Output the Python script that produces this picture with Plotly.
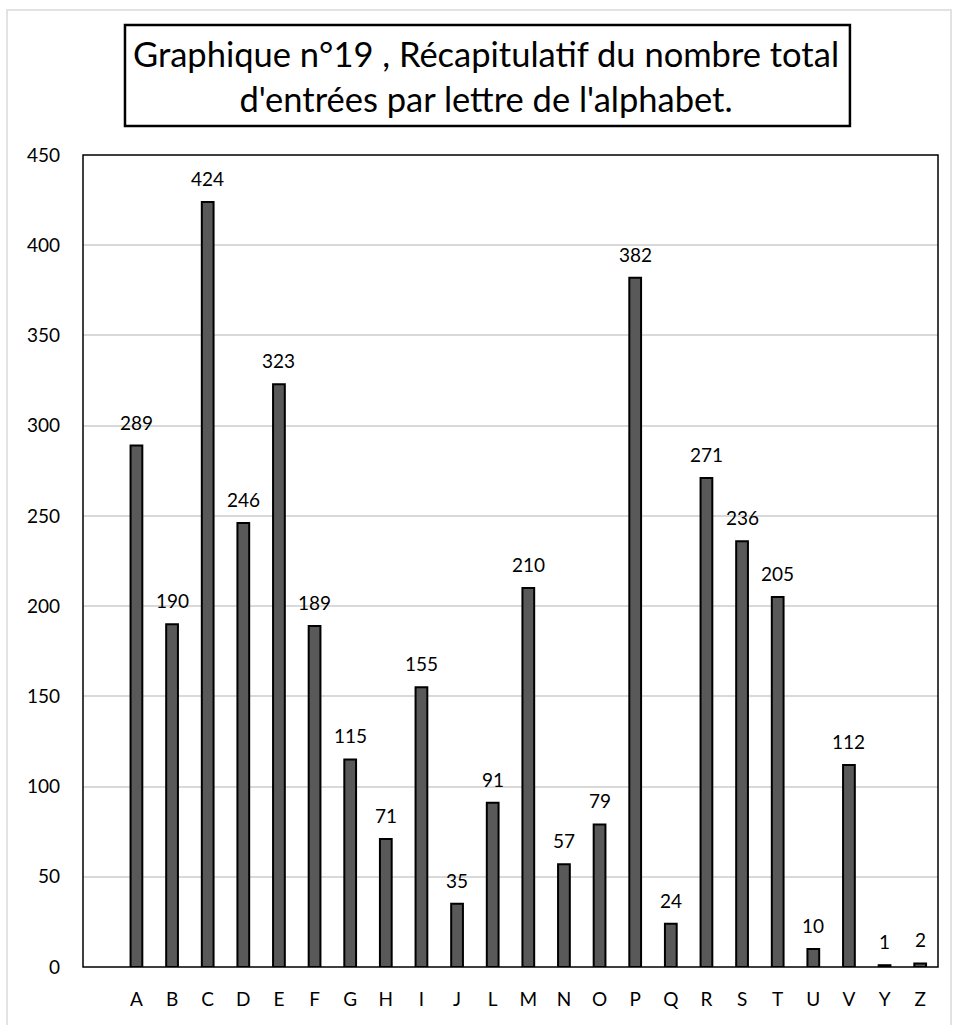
import plotly.graph_objects as go

letters = [" ", "A", "B", "C", "D", "E", "F", "G", "H", "I", "J", "L", "M",
           "N", "O", "P", "Q", "R", "S", "T", "U", "V", "Y", "Z"]
counts = [None, 289, 190, 424, 246, 323, 189, 115, 71, 155, 35, 91, 210,
          57, 79, 382, 24, 271, 236, 205, 10, 112, 1, 2]

FONT = "Lato, Carlito, Calibri, sans-serif"

fig = go.Figure(
    go.Bar(
        x=letters, y=counts,
        marker=dict(color="#595959", line=dict(color="#000000", width=2)),
        width=0.33, hoverinfo="x+y",
    )
)

# value labels above each bar
value_notes = [
    dict(x=l, y=c, text=str(c), showarrow=False, xanchor="center", yanchor="bottom",
         yshift=10, font=dict(size=19, family=FONT, color="#000000"))
    for l, c in zip(letters, counts) if c is not None
]

fig.update_layout(
    width=956, height=1025,
    paper_bgcolor="white", plot_bgcolor="white",
    margin=dict(l=83, r=18, t=155, b=58),
    font=dict(family=FONT, color="#000000", size=19),
    showlegend=False,
    shapes=[
        # outer light frame
        dict(type="rect", xref="paper", yref="paper", x0=-0.0889, x1=1.0152,
             y0=-0.08, y1=1.1786, line=dict(color="#d9d9d9", width=1.5), layer="below"),
        # title box
        dict(type="rect", xref="paper", yref="paper", x0=0.0491, x1=0.897,
             y0=1.0357, y1=1.160, line=dict(color="#000000", width=2.5)),
        # plot frame
        dict(type="rect", xref="paper", yref="paper", x0=0, x1=1, y0=0, y1=1,
             line=dict(color="#000000", width=1.5)),
    ],
    annotations=[
        dict(text="Graphique n°19 , Récapitulatif du nombre total<br>d'entrées par lettre de l'alphabet.",
             xref="paper", yref="paper", x=0.471, y=1.0973, showarrow=False,
             xanchor="center", yanchor="middle", align="center",
             font=dict(size=34.5, family=FONT, color="#000000")),
    ] + value_notes,
)

fig.update_xaxes(
    type="category", showgrid=False, showline=False, ticks="",
    tickfont=dict(size=19), ticklabelstandoff=19,
)
fig.update_yaxes(
    range=[0, 450], dtick=50, showgrid=True, gridcolor="#d9d9d9", gridwidth=1.5,
    zeroline=False, showline=False, ticks="", tickfont=dict(size=19),
    ticklabelstandoff=22,
)

fig.write_html("out.html", config={"displayModeBar": False},
               post_script="document.body.style.margin='0';")
